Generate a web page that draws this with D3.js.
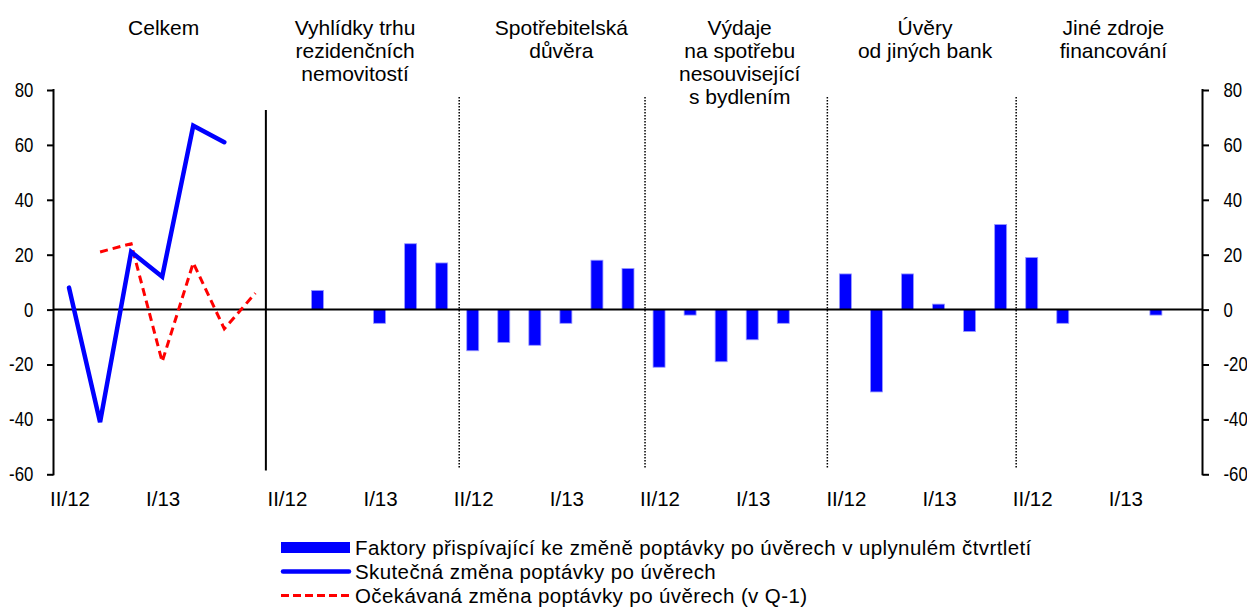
<!DOCTYPE html>
<html>
<head>
<meta charset="utf-8">
<script src="https://cdn.jsdelivr.net/npm/d3@7"></script>
<style>
  html, body { margin: 0; padding: 0; background: #fff; }
  svg { display: block; font-family: "Liberation Sans", Arial, sans-serif; }
</style>
</head>
<body>
<svg id="chart" width="1247" height="607"></svg>
<script>
// ---------------- DATA ----------------
const groupTitles = [
  ["Celkem"],
  ["Vyhlídky trhu", "rezidenčních", "nemovitostí"],
  ["Spotřebitelská", "důvěra"],
  ["Výdaje", "na spotřebu", "nesouvisející", "s bydlením"],
  ["Úvěry", "od jiných bank"],
  ["Jiné zdroje", "financování"]
];
const celkemQuarters = ["II/12", "III/12", "IV/12", "I/13", "II/13", "III/13", "IV/13"];
const factorQuarters = ["II/12", "III/12", "IV/12", "I/13", "II/13", "III/13"];
const shownTickLabels = ["II/12", "I/13"];

// Skutečná změna poptávky (Celkem)
const actualChange   = [8, -41, 21, 12, 67, 61, null];
// Očekávaná změna poptávky (v Q-1) (Celkem)
const expectedChange = [null, 21, 24, -19, 17, -7, 6];

// Faktory (bars), per group
const factorsHousing     = [0, 7, 0, -5, 24, 17];
const factorsConfidence  = [-15, -12, -13, -5, 18, 15];
const factorsConsumption = [-21, -2, -19, -11, -5, 0];
const factorsOtherBanks  = [13, -30, 13, 2, -8, 31];
const factorsOtherSource = [19, -5, 0, 0, -2, 0];

const yTicks = [-60, -40, -20, 0, 20, 40, 60, 80];

const legendLabels = [
  "Faktory přispívající ke změně poptávky po úvěrech v uplynulém čtvrtletí",
  "Skutečná změna poptávky po úvěrech",
  "Očekávaná změna poptávky po úvěrech (v Q-1)"
];

// ---------------- BUILD SLOTS ----------------
const factorGroups = [factorsHousing, factorsConfidence, factorsConsumption, factorsOtherBanks, factorsOtherSource];
const slots = [];
celkemQuarters.forEach((q, i) => slots.push({ id: slots.length, group: 0, q: q, actual: actualChange[i], expected: expectedChange[i] }));
factorGroups.forEach((arr, gi) => {
  factorQuarters.forEach((q, i) => slots.push({ id: slots.length, group: gi + 1, q: q, bar: arr[i] }));
});

// ---------------- LAYOUT ----------------
const svg = d3.select("#chart");
const plotL = 53.5, plotR = 1202.5, plotT = 90, plotB = 474.3;

const x = d3.scaleBand().domain(slots.map(d => d.id)).range([plotL, plotR]).padding(0);
const y = d3.scaleLinear().domain([-60, 80]).range([plotB, plotT]);
const step = x.step();
const cx = id => x(id) + step / 2;

// group extents
const groups = groupTitles.map((t, gi) => {
  const ids = slots.filter(s => s.group === gi).map(s => s.id);
  return { title: t, start: d3.min(ids), end: d3.max(ids) };
});

// separators
const sepDx = [-5, 2, 1.5, -2.5, 0];
groups.slice(1).forEach((g, i) => {
  const xs = x(g.start) + sepDx[i];
  if (i === 0) {
    svg.append("line").attr("x1", xs).attr("x2", xs).attr("y1", 110).attr("y2", 470.5)
      .attr("stroke", "#000").attr("stroke-width", 2);
  } else {
    svg.append("line").attr("x1", xs).attr("x2", xs).attr("y1", 97).attr("y2", 469)
      .attr("stroke", "#000").attr("stroke-width", 1.5).attr("stroke-dasharray", "1.5,1.5");
  }
});

// titles
const titleDx = [1.5, -9, 11, 3, 2, 4];
groups.forEach((g, gi) => {
  const xc = (x(g.start) + x(g.end) + step) / 2 + titleDx[gi];
  const t = svg.append("text").attr("text-anchor", "middle").attr("font-size", 21).attr("fill", "#000");
  g.title.forEach((line, li) => {
    t.append("tspan").attr("x", xc).attr("y", 34.5 + li * 23).text(line);
  });
});

// bars
const barW = 12;
svg.append("g").selectAll("rect")
  .data(slots.filter(s => s.bar != null && s.bar !== 0))
  .join("rect")
  .attr("x", d => cx(d.id) - barW / 2)
  .attr("width", barW)
  .attr("y", d => y(Math.max(0, d.bar)))
  .attr("height", d => Math.abs(y(d.bar) - y(0)))
  .attr("fill", "#0000ff")
  .attr("stroke", "#9a9aff")
  .attr("stroke-width", 0.8);

// zero line
svg.append("line").attr("x1", plotL).attr("x2", plotR).attr("y1", y(0)).attr("y2", y(0))
  .attr("stroke", "#000").attr("stroke-width", 2);

// lines
const lineGen = key => d3.line().defined(d => d[key] != null).x(d => cx(d.id)).y(d => y(d[key]));
const celkem = slots.filter(s => s.group === 0);
svg.append("path").datum(celkem).attr("d", lineGen("expected"))
  .attr("fill", "none").attr("stroke", "#ff0000").attr("stroke-width", 3).attr("stroke-dasharray", "8,5");
svg.append("path").datum(celkem).attr("d", lineGen("actual"))
  .attr("fill", "none").attr("stroke", "#0000ff").attr("stroke-width", 4.5).attr("stroke-linejoin", "miter").attr("stroke-linecap", "round");

// axes
const sx = 0.84;
const fmt = d => String(d);
const yl = svg.append("g").attr("transform", `translate(${plotL},0)`)
  .call(d3.axisLeft(y).tickValues(yTicks).tickFormat(fmt).tickSize(6.5).tickSizeOuter(0).tickPadding(13.7));
const yr = svg.append("g").attr("transform", `translate(${plotR},0)`)
  .call(d3.axisRight(y).tickValues(yTicks).tickFormat(fmt).tickSize(6.5).tickSizeOuter(0).tickPadding(14.5));
[yl, yr].forEach(g => {
  g.select(".domain").remove();
  g.selectAll(".tick line").attr("stroke", "#000").attr("stroke-width", 2);
  g.selectAll(".tick text").attr("font-size", 20).attr("fill", "#000")
    .attr("font-family", "'Liberation Sans', Arial, sans-serif")
    .attr("transform", `scale(${sx},1)`)
    .attr("x", function() { return +d3.select(this).attr("x") / sx; });
});
[plotL, plotR].forEach(xx => svg.append("line").attr("x1", xx).attr("x2", xx).attr("y1", plotT - 1).attr("y2", plotB + 1)
  .attr("stroke", "#000").attr("stroke-width", 2));

// x labels
svg.append("g").selectAll("text")
  .data(slots.filter(s => shownTickLabels.includes(s.q)))
  .join("text")
  .attr("x", d => cx(d.id) + 1)
  .attr("y", 506)
  .attr("text-anchor", "middle")
  .attr("font-size", 20.5)
  .attr("fill", "#000")
  .text(d => d.q);

// legend
const lg = svg.append("g");
const lx0 = 281, lx1 = 350, rowY = [547.5, 571.5, 595.5];
lg.append("rect").attr("x", lx0).attr("y", rowY[0] - 5.5).attr("width", lx1 - lx0).attr("height", 11).attr("fill", "#0000ff");
lg.append("line").attr("x1", lx0 + 2).attr("x2", lx1 - 1).attr("y1", rowY[1]).attr("y2", rowY[1])
  .attr("stroke", "#0000ff").attr("stroke-width", 4.5).attr("stroke-linecap", "round");
lg.append("line").attr("x1", lx0).attr("x2", lx1).attr("y1", rowY[2]).attr("y2", rowY[2])
  .attr("stroke", "#ff0000").attr("stroke-width", 3).attr("stroke-dasharray", "8,4");
legendLabels.forEach((t, i) => {
  lg.append("text").attr("x", 355).attr("y", rowY[i] + 7).attr("font-size", 20.5)
    .attr("letter-spacing", 0.4).attr("fill", "#000").text(t);
});
</script>
</body>
</html>
